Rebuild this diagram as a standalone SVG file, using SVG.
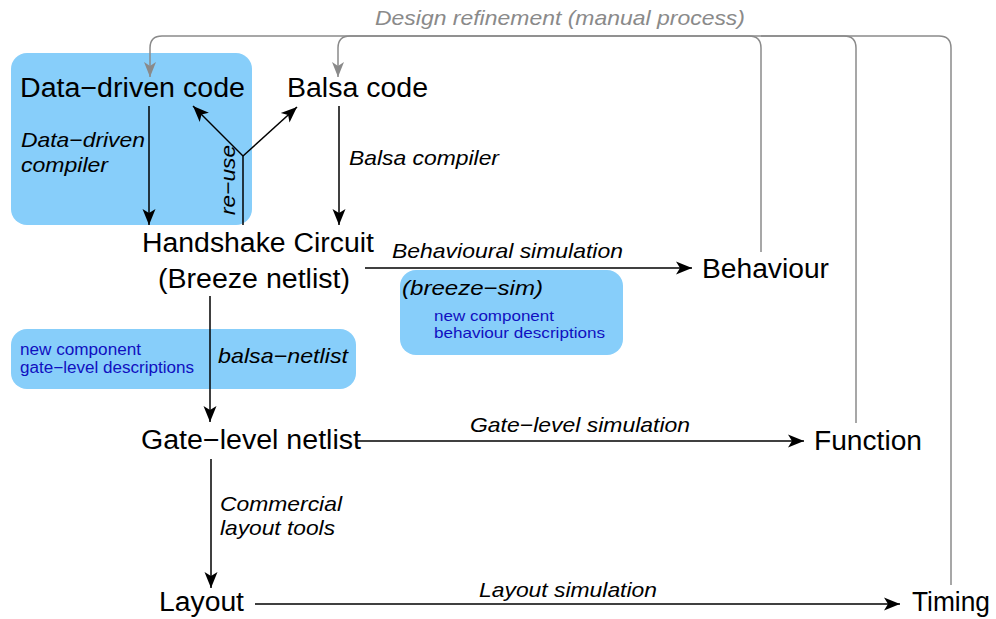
<svg xmlns="http://www.w3.org/2000/svg" width="996" height="619" viewBox="0 0 996 619">
<style>
.bg{fill:#fff}
.box{fill:#87cefa;stroke:none}
.node{font-family:"Liberation Sans",Arial,sans-serif;font-size:27px;fill:#000}
.lab{font-family:"Liberation Sans",Arial,sans-serif;font-size:21px;font-style:italic;fill:#000}
.note{font-family:"Liberation Sans",Arial,sans-serif;font-size:16px;fill:#1010c0}
.note2{font-family:"Liberation Sans",Arial,sans-serif;font-size:15px;fill:#1010c0}
.gray{fill:#8a8a8a}
.ln{fill:none;stroke:#000;stroke-width:1.5}
.fb{fill:none;stroke:#8a8a8a;stroke-width:1.5}
</style>
<defs>
<marker id="ah" markerUnits="userSpaceOnUse" markerWidth="20" markerHeight="16" viewBox="-18 -8 20 16" refX="0" refY="0" orient="auto">
<path d="M0,0 L-16,-6.5 L-12,0 L-16,6.5 Z" fill="#000"/>
</marker>
<marker id="ahg" markerUnits="userSpaceOnUse" markerWidth="20" markerHeight="16" viewBox="-18 -8 20 16" refX="0" refY="0" orient="auto">
<path d="M0,0 L-15,-6 L-11,0 L-15,6 Z" fill="#8a8a8a"/>
</marker>
</defs>
<rect class="bg" x="0" y="0" width="996" height="619"/>

<g id="box-datadriven"><rect class="box" x="11" y="53" width="241" height="172" rx="16"/></g>
<g id="box-breezesim"><rect class="box" x="400" y="270" width="223" height="85" rx="16"/>
<text class="note2" x="434" y="321" textLength="120" lengthAdjust="spacingAndGlyphs">new component</text>
<text class="note2" x="434" y="338" textLength="171" lengthAdjust="spacingAndGlyphs">behaviour descriptions</text></g>
<g id="box-netlist"><rect class="box" x="11" y="329" width="345" height="60" rx="16"/>
<text class="note" x="20" y="355" textLength="121" lengthAdjust="spacingAndGlyphs">new component</text>
<text class="note" x="20" y="373" textLength="174" lengthAdjust="spacingAndGlyphs">gate−level descriptions</text></g>

<g id="connectors">
<path class="fb" d="M951,585 V48 Q951,36 939,36 H761"/>
<path class="fb" d="M856,423 V48 Q856,36 844,36 H350 Q338,36 338,48 V77" marker-end="url(#ahg)"/>
<path class="fb" d="M761,252 V48 Q761,36 749,36 H162 Q150,36 150,48 V77" marker-end="url(#ahg)"/>
<text class="lab gray" x="375" y="25" textLength="370" lengthAdjust="spacingAndGlyphs">Design refinement (manual process)</text>

<path class="ln" d="M149,106 V225" marker-end="url(#ah)"/>
<text class="lab" x="21" y="147" textLength="124" lengthAdjust="spacingAndGlyphs">Data−driven</text>
<text class="lab" x="21" y="172" textLength="87" lengthAdjust="spacingAndGlyphs">compiler</text>

<path class="ln" d="M339,106 V225" marker-end="url(#ah)"/>
<text class="lab" x="349" y="165" textLength="150" lengthAdjust="spacingAndGlyphs">Balsa compiler</text>

<path class="ln" d="M243,225 V156"/>
<path class="ln" d="M243,156 L193,106" marker-end="url(#ah)"/>
<path class="ln" d="M243,156 L297,107" marker-end="url(#ah)"/>
<text class="lab" transform="translate(235,215) rotate(-90)" x="0" y="0" textLength="70" lengthAdjust="spacingAndGlyphs">re−use</text>

<path class="ln" d="M210,296 V422" marker-end="url(#ah)"/>
<text class="lab" x="218" y="363" textLength="130" lengthAdjust="spacingAndGlyphs">balsa−netlist</text>

<path class="ln" d="M365,268 H692" marker-end="url(#ah)"/>
<text class="lab" x="392" y="258" textLength="231" lengthAdjust="spacingAndGlyphs">Behavioural simulation</text>
<text class="lab" x="402" y="295" textLength="141" lengthAdjust="spacingAndGlyphs">(breeze−sim)</text>

<path class="ln" d="M357,441 H804" marker-end="url(#ah)"/>
<text class="lab" x="470" y="432" textLength="220" lengthAdjust="spacingAndGlyphs">Gate−level simulation</text>

<path class="ln" d="M211,459 V588" marker-end="url(#ah)"/>
<text class="lab" x="220" y="511" textLength="122" lengthAdjust="spacingAndGlyphs">Commercial</text>
<text class="lab" x="220" y="535" textLength="115" lengthAdjust="spacingAndGlyphs">layout tools</text>

<path class="ln" d="M255,604 H900" marker-end="url(#ah)"/>
<text class="lab" x="479" y="597" textLength="178" lengthAdjust="spacingAndGlyphs">Layout simulation</text>
</g>

<g id="node-datadriven"><text class="node" x="20" y="97" textLength="225" lengthAdjust="spacingAndGlyphs">Data−driven code</text></g>
<g id="node-balsa"><text class="node" x="287" y="97" textLength="141" lengthAdjust="spacingAndGlyphs">Balsa code</text></g>
<g id="node-handshake">
<text class="node" x="142" y="252" textLength="232" lengthAdjust="spacingAndGlyphs">Handshake Circuit</text>
<text class="node" x="158" y="288" textLength="192" lengthAdjust="spacingAndGlyphs">(Breeze netlist)</text></g>
<g id="node-behaviour"><text class="node" x="702" y="278" textLength="127" lengthAdjust="spacingAndGlyphs">Behaviour</text></g>
<g id="node-gatelevel"><text class="node" x="141" y="449" textLength="220" lengthAdjust="spacingAndGlyphs">Gate−level netlist</text></g>
<g id="node-function"><text class="node" x="814" y="450" textLength="108" lengthAdjust="spacingAndGlyphs">Function</text></g>
<g id="node-layout"><text class="node" x="159" y="611" textLength="85" lengthAdjust="spacingAndGlyphs">Layout</text></g>
<g id="node-timing"><text class="node" x="912" y="611" textLength="78" lengthAdjust="spacingAndGlyphs">Timing</text></g>
</svg>
